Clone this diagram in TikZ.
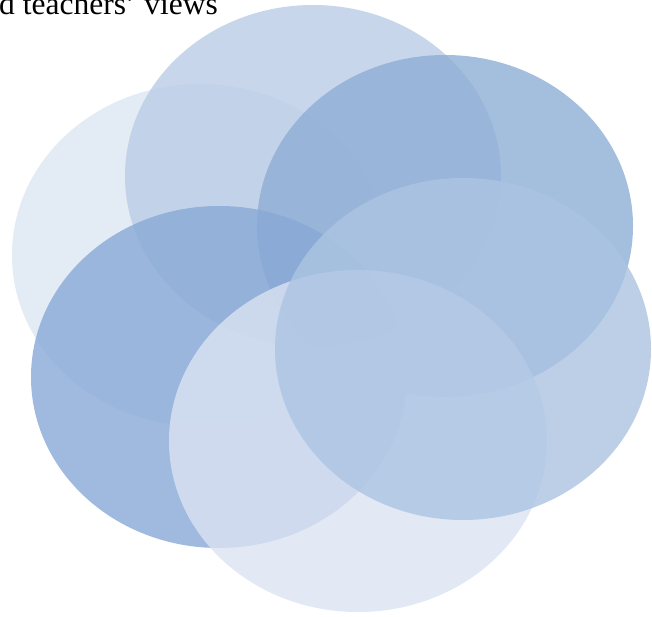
\documentclass[tikz,border=0pt]{standalone}
\usepackage{fontspec}
\setmainfont{Liberation Serif}
\begin{document}
\begin{tikzpicture}[x=1pt,y=-1pt,
  bubble/.style={fill opacity=0.8},
  heading/.style={font=\fontsize{31.5}{37}\selectfont, inner sep=0pt, anchor=base west}]
\definecolor{bubA}{RGB}{221,230,242}
\definecolor{bubB}{RGB}{186,204,229}
\definecolor{bubC}{RGB}{142,174,214}
\definecolor{bubD}{RGB}{136,169,214}
\definecolor{bubE}{RGB}{219,227,242}
\definecolor{bubF}{RGB}{172,196,226}
\useasboundingbox (0,0) rectangle (652,617);
\fill[white] (0,0) rectangle (652,617);
% ring of six overlapping ellipses
\fill[bubble, bubA] (200,255) ellipse [x radius=188, y radius=171];
\fill[bubble, bubB] (313,176) ellipse [x radius=188, y radius=171];
\fill[bubble, bubC] (445,226) ellipse [x radius=188, y radius=171];
\fill[bubble, bubD] (219,377) ellipse [x radius=188, y radius=171];
\fill[bubble, bubE] (358,441) ellipse [x radius=189, y radius=171];
\fill[bubble, bubF] (463,349) ellipse [x radius=188, y radius=171];
% heading line, cut by the top edge
\node[heading] (title) at (-1,14.5) {d teachers’ views};
\end{tikzpicture}
\end{document}
